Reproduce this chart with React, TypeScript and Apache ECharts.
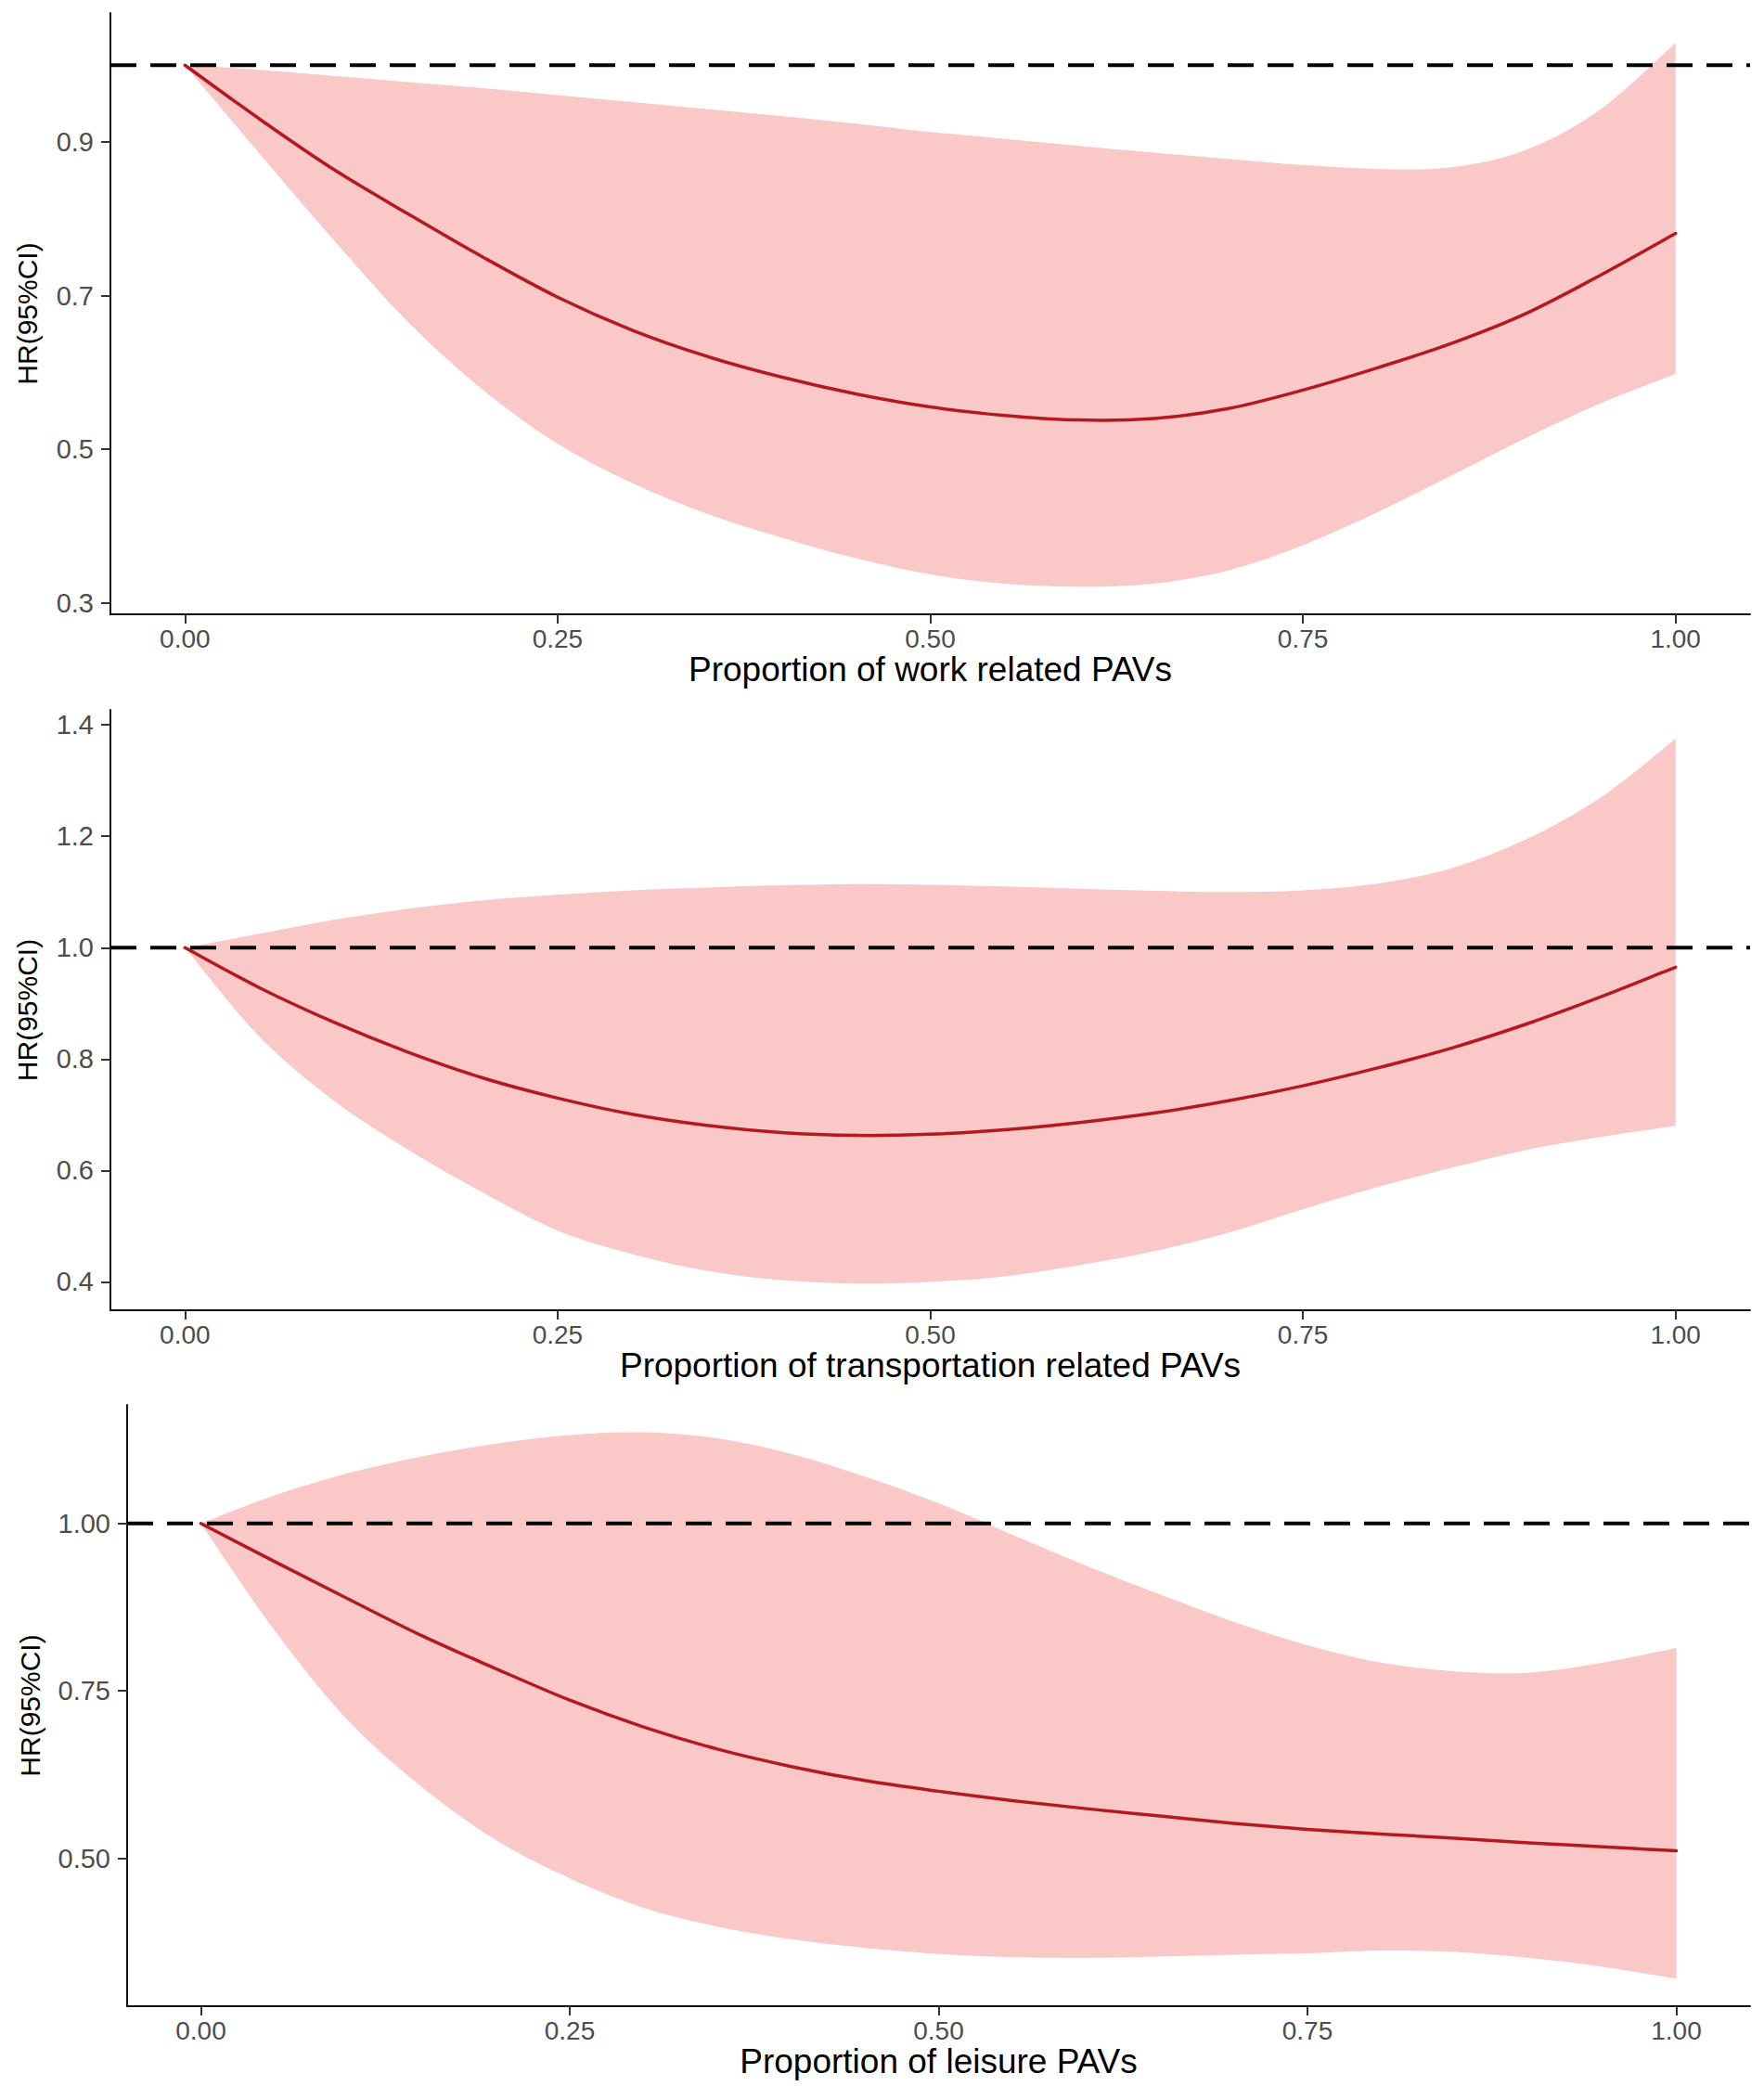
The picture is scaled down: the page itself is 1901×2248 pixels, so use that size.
import React, { useEffect, useRef } from "react";
import * as echarts from "echarts";

const X = [0, 0.05, 0.1, 0.15, 0.2, 0.25, 0.3, 0.35, 0.4, 0.45, 0.5, 0.55, 0.6, 0.65, 0.7, 0.75, 0.8, 0.85, 0.9, 0.95, 1.0];

const WORK_HR = [1.0, 0.93, 0.864, 0.806, 0.75, 0.698, 0.655, 0.621, 0.594, 0.572, 0.555, 0.544, 0.538, 0.54, 0.553, 0.577, 0.606, 0.638, 0.677, 0.727, 0.781];
const WORK_UP = [1.0, 0.994, 0.986, 0.978, 0.97, 0.961, 0.952, 0.943, 0.934, 0.924, 0.913, 0.904, 0.895, 0.886, 0.878, 0.87, 0.865, 0.867, 0.89, 0.943, 1.029];
const WORK_LOW = [1.0, 0.885, 0.772, 0.665, 0.577, 0.507, 0.456, 0.416, 0.385, 0.358, 0.337, 0.325, 0.321, 0.325, 0.342, 0.375, 0.418, 0.466, 0.515, 0.56, 0.598];

const TRANS_HR = [1.0, 0.928, 0.866, 0.812, 0.766, 0.73, 0.701, 0.681, 0.668, 0.663, 0.665, 0.673, 0.686, 0.703, 0.725, 0.752, 0.784, 0.82, 0.863, 0.912, 0.965];
const TRANS_UP = [1.0, 1.025, 1.05, 1.07, 1.085, 1.095, 1.103, 1.108, 1.112, 1.114, 1.113, 1.11, 1.106, 1.102, 1.1, 1.103, 1.115, 1.143, 1.195, 1.27, 1.375];
const TRANS_LOW = [1.0, 0.84, 0.725, 0.637, 0.56, 0.492, 0.45, 0.42, 0.403, 0.397, 0.4, 0.41, 0.43, 0.455, 0.488, 0.53, 0.57, 0.605, 0.637, 0.66, 0.68];

const LEIS_HR = [1.0, 0.943, 0.887, 0.832, 0.783, 0.736, 0.696, 0.663, 0.637, 0.616, 0.6, 0.586, 0.574, 0.563, 0.552, 0.543, 0.536, 0.53, 0.523, 0.517, 0.511];
const LEIS_UP = [1.0, 1.042, 1.075, 1.1, 1.119, 1.132, 1.136, 1.127, 1.104, 1.07, 1.03, 0.983, 0.937, 0.894, 0.853, 0.818, 0.792, 0.779, 0.777, 0.792, 0.814];
const LEIS_LOW = [1.0, 0.84, 0.705, 0.606, 0.527, 0.47, 0.426, 0.398, 0.379, 0.366, 0.357, 0.352, 0.351, 0.353, 0.356, 0.358, 0.362, 0.36, 0.351, 0.338, 0.32];

const X_TICKS = [0, 0.25, 0.5, 0.75, 1.0];
const WORK_Y_TICKS = [0.3, 0.5, 0.7, 0.9];
const TRANS_Y_TICKS = [0.4, 0.6, 0.8, 1.0, 1.2, 1.4];
const LEIS_Y_TICKS = [0.5, 0.75, 1.0];

const X_TITLES = [
  "Proportion of work related PAVs",
  "Proportion of transportation related PAVs",
  "Proportion of leisure PAVs",
];
const Y_TITLE = "HR(95%CI)";
const REF_LINE = 1;

const FONT = "'Liberation Sans', Arial, Helvetica, sans-serif";
const LINE_COLOR = "#B3191F";
const BAND_COLOR = "#FBC8C8";

type Panel = {
  hr: number[];
  up: number[];
  low: number[];
  yTicks: number[];
  yDigits: number;
  yMin: number;
  yMax: number;
  grid: { left: number; top: number; width: number; height: number };
  title: string;
};

const PANELS: Panel[] = [
  { hr: WORK_HR, up: WORK_UP, low: WORK_LOW, yTicks: WORK_Y_TICKS, yDigits: 1, yMin: 0.285, yMax: 1.068,
    grid: { left: 119, top: 14, width: 1767, height: 648 }, title: X_TITLES[0] },
  { hr: TRANS_HR, up: TRANS_UP, low: TRANS_LOW, yTicks: TRANS_Y_TICKS, yDigits: 1, yMin: 0.349, yMax: 1.427,
    grid: { left: 119, top: 765, width: 1767, height: 647 }, title: X_TITLES[1] },
  { hr: LEIS_HR, up: LEIS_UP, low: LEIS_LOW, yTicks: LEIS_Y_TICKS, yDigits: 2, yMin: 0.279, yMax: 1.177,
    grid: { left: 137, top: 1514, width: 1749, height: 648 }, title: X_TITLES[2] },
];

// Catmull-Rom -> cubic bezier segments through pixel points
function splinePath(pts: number[][], moveTo: boolean): string {
  let d = moveTo ? `M${pts[0][0]},${pts[0][1]}` : `L${pts[0][0]},${pts[0][1]}`;
  for (let i = 0; i < pts.length - 1; i++) {
    const p0 = pts[i - 1] || pts[i];
    const p1 = pts[i];
    const p2 = pts[i + 1];
    const p3 = pts[i + 2] || p2;
    const c1x = p1[0] + (p2[0] - p0[0]) / 6;
    const c1y = p1[1] + (p2[1] - p0[1]) / 6;
    const c2x = p2[0] - (p3[0] - p1[0]) / 6;
    const c2y = p2[1] - (p3[1] - p1[1]) / 6;
    d += ` C${c1x},${c1y} ${c2x},${c2y} ${p2[0]},${p2[1]}`;
  }
  return d;
}

function buildOption() {
  const grid: any[] = [];
  const xAxis: any[] = [];
  const yAxis: any[] = [];
  const series: any[] = [];
  PANELS.forEach((p, i) => {
    grid.push({ ...p.grid, outerBoundsMode: "none", containLabel: false });
    xAxis.push({
      type: "value",
      gridIndex: i,
      min: -0.05,
      max: 1.05,
      name: p.title,
      nameLocation: "middle",
      nameGap: 31,
      nameTextStyle: { fontSize: 37, color: "#000", fontFamily: FONT },
      axisLine: { show: true, onZero: false, lineStyle: { color: "#111", width: 2 } },
      axisTick: { show: true, inside: false, length: 10, customValues: X_TICKS, lineStyle: { color: "#333", width: 2 } },
      axisLabel: {
        show: true,
        customValues: X_TICKS,
        formatter: (v: number) => v.toFixed(2),
        color: "#4D4D4D",
        fontSize: 28,
        fontFamily: FONT,
        margin: 12,
      },
      splitLine: { show: false },
    });
    yAxis.push({
      type: "value",
      gridIndex: i,
      min: p.yMin,
      max: p.yMax,
      name: Y_TITLE,
      nameLocation: "middle",
      nameRotate: 90,
      nameGap: i === 2 ? 90 : 75,
      nameTextStyle: { fontSize: 30, color: "#000", fontFamily: FONT },
      axisLine: { show: true, onZero: false, lineStyle: { color: "#111", width: 2 } },
      axisTick: { show: true, inside: false, length: 10, customValues: p.yTicks, lineStyle: { color: "#333", width: 2 } },
      axisLabel: {
        show: true,
        customValues: p.yTicks,
        formatter: (v: number) => v.toFixed(p.yDigits),
        color: "#4D4D4D",
        fontSize: 29,
        fontFamily: FONT,
        margin: 18,
      },
      splitLine: { show: false },
    });
    // 95% CI ribbon
    series.push({
      type: "custom",
      xAxisIndex: i,
      yAxisIndex: i,
      silent: true,
      z: 1,
      data: X.map((x, j) => [x, p.low[j], p.up[j]]),
      renderItem: (params: any, api: any) => {
        if (params.dataIndex !== 0) return null;
        const upPts = X.map((x, j) => api.coord([x, p.up[j]]));
        const lowPts = X.map((x, j) => api.coord([x, p.low[j]])).reverse();
        const d = splinePath(upPts, true) + " " + splinePath(lowPts, false) + " Z";
        return {
          type: "path",
          shape: { pathData: d },
          style: { fill: BAND_COLOR, stroke: "none" },
        };
      },
    });
    // HR curve
    series.push({
      type: "custom",
      xAxisIndex: i,
      yAxisIndex: i,
      silent: true,
      z: 3,
      data: X.map((x, j) => [x, p.hr[j]]),
      renderItem: (params: any, api: any) => {
        if (params.dataIndex !== 0) return null;
        const pts = X.map((x, j) => api.coord([x, p.hr[j]]));
        return {
          type: "path",
          shape: { pathData: splinePath(pts, true) },
          style: { fill: "none", stroke: LINE_COLOR, lineWidth: 3.5, lineJoin: "round", lineCap: "round" },
        };
      },
    });
    // reference line HR = 1
    series.push({
      type: "line",
      xAxisIndex: i,
      yAxisIndex: i,
      symbol: "none",
      silent: true,
      z: 4,
      lineStyle: { color: "#000", width: 4, type: [28, 15] },
      data: [[-0.05, REF_LINE], [1.05, REF_LINE]],
    });
  });
  return {
    animation: false,
    backgroundColor: "#fff",
    grid,
    xAxis,
    yAxis,
    series,
  };
}

export default function App() {
  const ref = useRef<HTMLDivElement>(null);
  useEffect(() => {
    document.body.style.margin = "0";
    if (!ref.current) return;
    const chart = echarts.init(ref.current, undefined, { renderer: "svg" });
    chart.setOption(buildOption());
    return () => chart.dispose();
  }, []);
  return <div ref={ref} style={{ width: 1901, height: 2248, background: "#fff" }} />;
}
